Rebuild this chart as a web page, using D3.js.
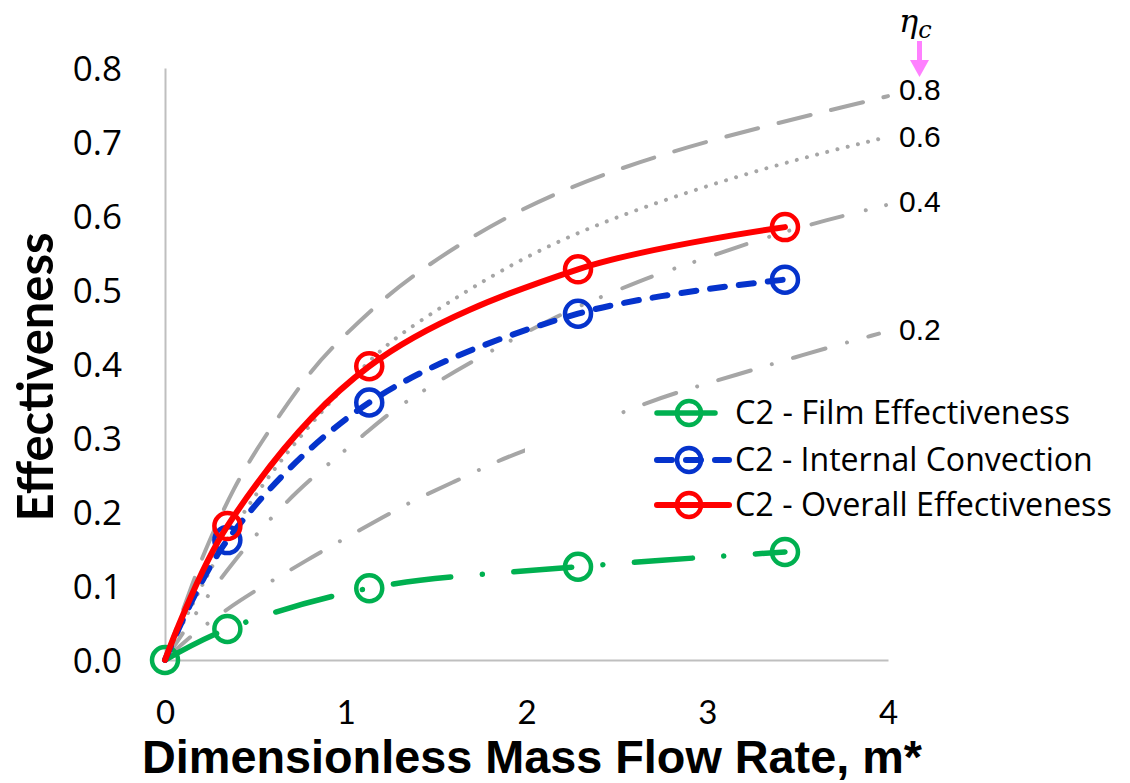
<!DOCTYPE html>
<html>
<head>
<meta charset="utf-8">
<script src="https://cdn.jsdelivr.net/npm/d3@7"></script>
<style>
  html, body { margin: 0; padding: 0; background: #ffffff; }
  svg { display: block; }
</style>
</head>
<body>
<svg id="chart" width="1130" height="783"></svg>
<script>
// ---- measured series (dimensionless mass flow rate vs effectiveness) ----
const massFlow     = [0, 0.345, 1.13, 2.285, 3.43];
const filmEff      = [0, 0.042, 0.097, 0.126, 0.146];
const internalConv = [0, 0.162, 0.348, 0.468, 0.514];
const overallEff   = [0, 0.181, 0.397, 0.528, 0.585];

const seriesNames = ["C2 - Film Effectiveness", "C2 - Internal Convection", "C2 - Overall Effectiveness"];

// ---- reference curves for constant coolant efficiency eta_c ----
const eta08X = [0, 0.163, 0.238, 0.382, 0.526, 0.785, 0.913, 1.17, 1.394, 1.947, 2.628, 3.29, 3.917, 4.0];
const eta08Y = [0, 0.111, 0.158, 0.234, 0.293, 0.384, 0.420, 0.480, 0.525, 0.611, 0.676, 0.720, 0.757, 0.762];

const eta06X = [0, 0.35, 0.7, 1.0, 1.206, 1.41, 2.003, 2.628, 3.364, 4.0];
const eta06Y = [0, 0.175, 0.29, 0.372, 0.423, 0.459, 0.550, 0.612, 0.669, 0.707];

const eta04X = [0, 0.177, 0.249, 0.387, 0.526, 0.736, 0.929, 1.118, 1.261, 1.483, 1.671, 2.202, 2.479, 2.683, 2.905, 3.237, 3.552, 3.994];
const eta04Y = [0, 0.065, 0.091, 0.135, 0.176, 0.230, 0.270, 0.308, 0.338, 0.372, 0.400, 0.470, 0.497, 0.518, 0.536, 0.564, 0.588, 0.615];

const eta02X = [0, 0.155, 0.432, 0.620, 0.813, 1.007, 1.206, 1.400, 1.604, 1.804, 1.953, 2.296, 2.633, 2.838, 3.059, 3.264, 3.485, 3.695, 3.95];
const eta02Y = [0, 0.036, 0.084, 0.111, 0.139, 0.166, 0.193, 0.219, 0.241, 0.265, 0.280, 0.311, 0.345, 0.362, 0.378, 0.393, 0.409, 0.424, 0.441];

const etaLabels = ["0.8", "0.6", "0.4", "0.2"];

const xTicks = [0, 1, 2, 3, 4];
const yTicks = [0, 0.1, 0.2, 0.3, 0.4, 0.5, 0.6, 0.7, 0.8];

// ---- layout ----
const svg = d3.select("#chart");
const x = d3.scaleLinear().domain([0, 4]).range([165, 888]);
const y = d3.scaleLinear().domain([0, 0.8]).range([660, 68]);

const GREY = "#a6a6a6";
const AXIS = "#bfbfbf";

function fitWidth(sel, target) {
  const w = sel.node().getComputedTextLength();
  const fs = parseFloat(sel.attr("font-size"));
  sel.attr("font-size", (fs * target / w).toFixed(2));
}

// axes
const yAxis = svg.append("g")
  .attr("transform", `translate(${x(0)},0)`)
  .call(d3.axisLeft(y).tickValues(yTicks).tickSize(0).tickSizeOuter(0).tickFormat(d3.format(".1f")));
yAxis.select(".domain").attr("stroke", AXIS).attr("stroke-width", 2);
yAxis.selectAll("text")
  .attr("x", 122 - x(0)).attr("dy", "0.36em")
  .attr("font-family", "'Open Sans', 'Noto Sans', sans-serif")
  .attr("font-size", 35).attr("fill", "#000");

const xAxis = svg.append("g")
  .attr("transform", `translate(0,${y(0)})`)
  .call(d3.axisBottom(x).tickValues(xTicks).tickSize(0).tickSizeOuter(0).tickFormat(d3.format("d")));
xAxis.select(".domain").attr("stroke", AXIS).attr("stroke-width", 2);
xAxis.selectAll("text")
  .attr("y", 724 - y(0)).attr("dy", 0)
  .attr("font-family", "Lato, 'Open Sans', sans-serif")
  .attr("font-size", 33).attr("fill", "#000");

// reference curves
const refCurves = [
  { xs: eta08X, ys: eta08Y, dash: "33 21" },
  { xs: eta06X, ys: eta06Y, dash: "0.01 10.5" },
  { xs: eta04X, ys: eta04Y, dash: "32 24 0.01 21 0.01 23" },
  { xs: eta02X, ys: eta02Y, dash: "34 22 0.01 22" }
];
const refLine = d3.line().curve(d3.curveBasis).x(d => x(d[0])).y(d => y(d[1]));
const refG = svg.append("g");
refCurves.forEach(c => {
  refG.append("path")
    .attr("d", refLine(d3.zip(c.xs, c.ys)))
    .attr("fill", "none").attr("stroke", GREY).attr("stroke-width", 4)
    .attr("stroke-linecap", "round").attr("stroke-dasharray", c.dash);
});

// curve labels
const labelBase = [100, 147, 212, 340];
etaLabels.forEach((t, i) => {
  svg.append("text").attr("x", 899).attr("y", labelBase[i])
    .attr("font-family", "'Liberation Sans', Arial, sans-serif")
    .attr("font-size", 30).attr("fill", "#000").text(t);
});

// eta_c marker with arrow
const eta = svg.append("text").attr("x", 899).attr("y", 32)
  .attr("font-family", "'DejaVu Serif', 'Liberation Serif', serif")
  .attr("font-style", "italic").attr("font-size", 32).attr("fill", "#000");
eta.append("tspan").text("η");
eta.append("tspan").attr("font-size", 24).attr("dy", 6).text("c");
svg.append("line").attr("x1", 919.5).attr("x2", 919.5).attr("y1", 41).attr("y2", 63)
  .attr("stroke", "#ff80ff").attr("stroke-width", 5);
svg.append("path").attr("d", "M910,60 L929,60 L919.5,77 Z").attr("fill", "#ff80ff");

// legend backdrop (sits above the reference curves)
svg.append("rect").attr("x", 525).attr("y", 416).attr("width", 605).attr("height", 114).attr("fill", "#ffffff");

// data series
const series = [
  { name: seriesNames[0], ys: filmEff, color: "#00b050", width: 5.5, dash: "58 31.5 0.01 31.5", cap: "round", first: 0 },
  { name: seriesNames[1], ys: internalConv, color: "#0533cc", width: 6, dash: "15 14", cap: "round", first: 1 },
  { name: seriesNames[2], ys: overallEff, color: "#ff0000", width: 6, dash: null, cap: "round", first: 1 }
];
const dataLine = d3.line().curve(d3.curveCatmullRom.alpha(0.5)).x(d => x(d[0])).y(d => y(d[1]));

series.forEach(s => {
  const g = svg.append("g");
  const pts = d3.zip(massFlow, s.ys);
  g.append("path").attr("d", dataLine(pts))
    .attr("fill", "none").attr("stroke", s.color).attr("stroke-width", s.width)
    .attr("stroke-linecap", s.cap).attr("stroke-linejoin", "round")
    .attr("stroke-dasharray", s.dash);
  g.selectAll("circle").data(pts.slice(s.first)).join("circle")
    .attr("cx", d => x(d[0])).attr("cy", d => y(d[1])).attr("r", 13)
    .attr("fill", "none").attr("stroke", s.color).attr("stroke-width", 4.5);
});

// legend
const legendY = [413, 460, 505];
const legendTextW = [335, 358, 377];
series.forEach((s, i) => {
  const g = svg.append("g");
  g.append("line").attr("x1", 657).attr("x2", 729).attr("y1", legendY[i]).attr("y2", legendY[i])
    .attr("stroke", s.color).attr("stroke-width", s.width)
    .attr("stroke-linecap", s.cap).attr("stroke-dasharray", i === 0 ? "58 60" : s.dash);
  g.append("circle").attr("cx", 689).attr("cy", legendY[i]).attr("r", 12)
    .attr("fill", "none").attr("stroke", s.color).attr("stroke-width", 4.5);
  const t = g.append("text").attr("x", 735).attr("y", legendY[i] + 11)
    .attr("font-family", "'Open Sans', 'Noto Sans', sans-serif")
    .attr("font-size", 27).attr("fill", "#000").text(s.name);
  fitWidth(t, legendTextW[i]);
});

// axis titles
const xt = svg.append("text").attr("x", 532).attr("y", 773).attr("text-anchor", "middle")
  .attr("font-family", "'Liberation Sans', Arial, sans-serif").attr("font-weight", "bold")
  .attr("font-size", 40).attr("fill", "#000").text("Dimensionless Mass Flow Rate, m*");
fitWidth(xt, 780);

const yt = svg.append("text").attr("transform", "translate(53,377) rotate(-90)")
  .attr("text-anchor", "middle")
  .attr("font-family", "Lato, 'Open Sans', sans-serif").attr("font-weight", "bold")
  .attr("font-size", 42).attr("fill", "#000").text("Effectiveness");
fitWidth(yt, 289);
</script>
</body>
</html>
